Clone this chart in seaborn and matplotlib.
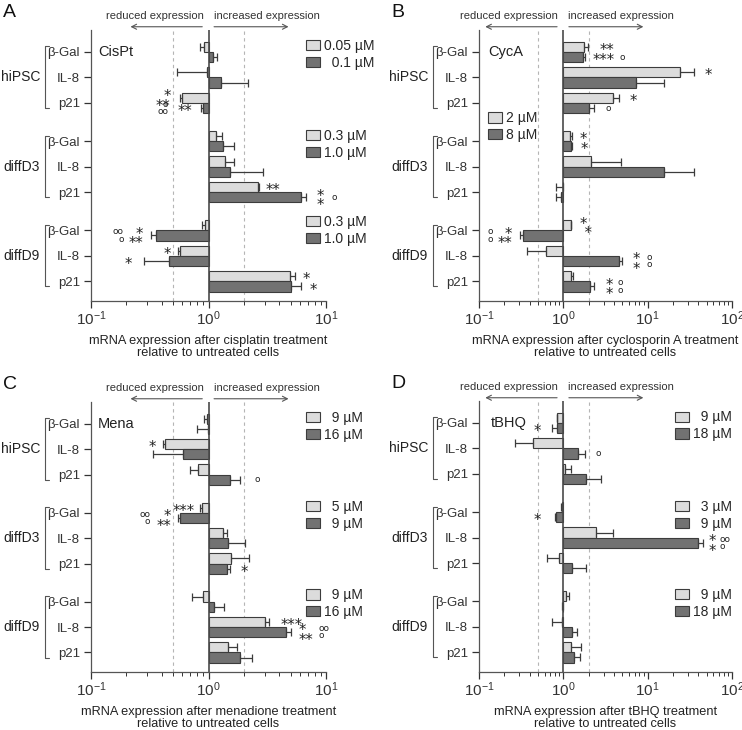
import numpy as np
import pandas as pd
import seaborn as sns
import matplotlib.pyplot as plt
import matplotlib.transforms as mtrans
from matplotlib.patches import Patch
from matplotlib.legend import Legend

sns.set_style("ticks")
plt.rcParams['font.family'] = ['Liberation Sans', 'DejaVu Sans']
plt.rcParams['mathtext.fontset'] = 'custom'
plt.rcParams['mathtext.rm'] = 'Liberation Sans'
plt.rcParams['mathtext.it'] = 'Liberation Sans'
plt.rcParams['axes.linewidth'] = 0.9
plt.rcParams['xtick.color'] = '#333333'
plt.rcParams['ytick.color'] = '#333333'

# ---------------- data ----------------
stages = ["hiPSC", "diffD3", "diffD9"]
genes = ["β-Gal", "IL-8", "p21"]

# Panel A: cisplatin
cispt_low = [0.92, 0.97, 0.59, 1.16, 1.38, 2.63, 0.94, 0.57, 4.9]
cispt_low_err = [0.08, 0.43, 0.02, 0.15, 0.28, 0.05, 0.06, 0.02, 0.5]
cispt_high = [1.10, 1.27, 0.895, 1.32, 1.51, 6.15, 0.354, 0.46, 5.06]
cispt_high_err = [0.07, 0.88, 0.025, 0.34, 1.41, 0.55, 0.027, 0.18, 1.09]
cispt_doses = [("0.05 µM", "  0.1 µM"), ("0.3 µM", "1.0 µM"), ("0.3 µM", "1.0 µM")]

# Panel B: cyclosporin A
cyca_low = [1.76, 24.3, 3.83, 1.21, 2.15, 0.99, 1.22, 0.62, 1.245]
cyca_low_err = [0.21, 10.7, 0.73, 0.04, 2.66, 0.17, 0.02, 0.25, 0.05]
cyca_high = [1.70, 7.26, 2.0, 1.22, 15.5, 0.95, 0.337, 4.6, 2.06]
cyca_high_err = [0.09, 8.3, 0.32, 0.06, 20.1, 0.14, 0.027, 0.3, 0.26]
cyca_doses = [("2 µM", "8 µM")]

# Panel C: menadione
mena_low = [0.98, 0.43, 0.81, 0.88, 1.33, 1.54, 0.905, 3.01, 1.47]
mena_low_err = [0.06, 0.02, 0.11, 0.03, 0.11, 0.66, 0.185, 0.26, 0.28]
mena_high = [0.99, 0.61, 1.52, 0.57, 1.46, 1.44, 1.11, 4.58, 1.84]
mena_high_err = [0.19, 0.27, 0.35, 0.02, 0.57, 0.08, 0.24, 0.41, 0.49]
mena_doses = [("  9 µM", "16 µM"), ("  5 µM", "  9 µM"), ("  9 µM", "16 µM")]

# Panel D: tBHQ
tbhq_low = [0.84, 0.44, 1.06, 0.97, 2.43, 0.89, 1.07, 0.97, 1.22]
tbhq_low_err = [0.01, 0.17, 0.16, 0.02, 1.40, 0.25, 0.11, 0.24, 0.39]
tbhq_high = [0.83, 1.50, 1.88, 0.82, 40.0, 1.27, 0.98, 1.27, 1.33]
tbhq_high_err = [0.10, 0.29, 0.95, 0.02, 5.0, 0.57, 0.01, 0.17, 0.24]
tbhq_doses = [("  9 µM", "18 µM"), ("  3 µM", "  9 µM"), ("  9 µM", "18 µM")]

# significance marks: (row, dose index, text, pad)
cispt_marks = [(2, 0, "*\n**", 6.5), (2, 1, "**", 6.5), (2, 1, "o\noo", 24),
               (5, 0, "**", 5), (5, 1, "*\n*", 8), (5, 1, "o", 19),
               (6, 1, "*\n**", 6), (6, 1, "oo\no", 20),
               (7, 0, "*", 5), (7, 1, "*", 8), (8, 0, "*", 6), (8, 1, "*", 6)]
cyca_marks = [(0, 0, "**", 8), (0, 1, "***", 6), (0, 1, "o", 25),
              (1, 0, "*", 8), (2, 0, "*", 8), (2, 1, "o", 8),
              (3, 0, "*", 6), (3, 1, "*", 6),
              (6, 0, "*\n *", 6), (6, 1, "*\n**", 6), (6, 1, "o\no", 20),
              (7, 1, "*\n*", 8), (7, 1, "o\no", 18),
              (8, 1, "*\n*", 8), (8, 1, "o\no", 17)]
mena_marks = [(1, 0, "*", 5), (2, 1, "o", 10),
              (3, 0, "***", 4), (3, 1, "*\n**", 5), (3, 1, "oo\no", 20),
              (5, 1, "*", 8),
              (7, 0, "***", 8), (7, 1, "*\n**", 6), (7, 1, "oo\no", 20)]
tbhq_marks = [(0, 1, "*", 8), (1, 1, "o", 8), (3, 1, "*", 10),
              (4, 1, "*\n*", 4), (4, 1, "oo\no", 12)]

LIGHT = "#dcdcdc"
DARK = "#727272"
EDGE = "#3c3c3c"

DPI = 100
fig = plt.figure(figsize=(7.42, 7.30), dpi=DPI)


def px(ax, dx):
    base = mtrans.blended_transform_factory(ax.transAxes, ax.transData)
    return base + mtrans.ScaledTranslation(dx / DPI, 0, fig.dpi_scale_trans)


def draw_panel(rect, low, low_err, high, high_err, doses, legend_pos, drug, drug_dx,
               xlabel, letter, xmax, marks):
    ax = fig.add_axes(rect)
    pos = [g * 3.5 + i for g in range(3) for i in range(3)]
    df = pd.DataFrame({
        "pos": pos * 2,
        "logv": np.log10(np.array(low + high)),
        "dose": ["low"] * 9 + ["high"] * 9,
    })
    ax.axvline(np.log10(0.5), color="#b5b5b5", lw=0.8, ls=(0, (3, 3)), zorder=0)
    ax.axvline(np.log10(2), color="#b5b5b5", lw=0.8, ls=(0, (3, 3)), zorder=0)
    sns.barplot(data=df, x="logv", y="pos", hue="dose", hue_order=["low", "high"],
                orient="h", native_scale=True, palette={"low": LIGHT, "high": DARK},
                width=0.8, errorbar=None, edgecolor=EDGE, linewidth=0.8,
                legend=False, ax=ax, zorder=2)
    for vals, errs, off in [(low, low_err, -0.2), (high, high_err, 0.2)]:
        v = np.array(vals)
        e = np.array(errs)
        neg = v < 1
        lo = np.where(neg, np.log10(v) - np.log10(np.maximum(v - e, 1e-3)), 0)
        hi = np.where(neg, 0, np.log10(v + e) - np.log10(v))
        ax.errorbar(np.log10(v), np.array(pos) + off, xerr=[lo, hi], fmt="none",
                    ecolor=EDGE, elinewidth=0.9, capsize=3, capthick=0.9, zorder=3)
    ax.axvline(0, color="#4a4a4a", lw=1.2, zorder=4)

    # significance marks
    for row, d, txt, pad in marks:
        v = (low, high)[d][row]
        e = (low_err, high_err)[d][row]
        tip = v - e if v < 1 else v + e
        side = -1 if v < 1 else 1
        y = pos[row] + (-0.2 if d == 0 else 0.2)
        isc = "o" in txt
        ax.annotate(txt, xy=(np.log10(tip), y),
                    xytext=(side * pad, 0 if isc else -2.6),
                    textcoords="offset points", ha="right" if side < 0 else "left",
                    va="center", fontsize=6.5 if isc else 10.5,
                    linespacing=0.55 if not isc else 0.75,
                    family=["DejaVu Sans"], color="#222222", zorder=5)

    ax.set_xlim(-1, xmax)
    ax.set_ylim(9.77, -0.86)
    ax.set_xticks(range(-1, xmax + 1),
                  [r"$\mathregular{10^{%d}}$" % k for k in range(-1, xmax + 1)],
                  fontsize=11)
    ax.set_xticks([np.log10(m) + d for d in range(-1, xmax) for m in range(2, 10)],
                  minor=True)
    ax.tick_params(axis="x", which="major", length=5, width=0.9, pad=1)
    ax.tick_params(axis="x", which="minor", length=3, width=0.7)
    ax.set_yticks(pos, genes * 3, fontsize=9.5)
    ax.tick_params(axis="y", length=5, width=0.9, pad=3)
    ax.set_ylabel("")
    ax.set_xlabel(xlabel, fontsize=9.2, linespacing=1.05, labelpad=5, color="#222222")
    sns.despine(ax=ax)
    for sp in ["left", "bottom"]:
        ax.spines[sp].set_color("#555555")

    # group brackets and labels
    wpx = rect[2] * 742
    for g, st in enumerate(stages):
        top, bot = pos[g * 3] - 0.22, pos[g * 3 + 2] + 0.2
        s = 4 / wpx
        ax.plot([s, 0, 0, s], [top, top, bot, bot], transform=px(ax, -46),
                color="#555555", lw=0.8, clip_on=False)
        ax.text(0, pos[g * 3 + 1], st, transform=px(ax, -51), ha="right", va="center",
                fontsize=10, color="#222222")

    # drug name
    ax.text(0, pos[0], drug, transform=px(ax, drug_dx), ha="left", va="center",
            fontsize=10.5, color="#222222")

    # legends (one per cell stage)
    for (lab1, lab2), (lx, ly) in zip(doses, legend_pos):
        handles = [Patch(facecolor=LIGHT, edgecolor=EDGE, lw=0.8),
                   Patch(facecolor=DARK, edgecolor=EDGE, lw=0.8)]
        leg = Legend(ax, handles, [lab1, lab2], loc="upper left",
                     bbox_to_anchor=(lx, ly), frameon=False, fontsize=10,
                     handlelength=1.0, handleheight=0.75, handletextpad=0.3,
                     labelspacing=0.2, borderpad=0, borderaxespad=0)
        ax.add_artist(leg)

    # reduced / increased expression
    ybl = mtrans.blended_transform_factory(ax.transData, ax.transAxes)
    ax.annotate("", xy=(0, 1.012), xycoords=ybl, xytext=(-78 * 0.72, 0),
                textcoords="offset points",
                arrowprops=dict(arrowstyle="<-,head_length=0.35,head_width=0.18",
                                color="#555555", lw=0.8, shrinkA=0, shrinkB=4.5))
    ax.annotate("", xy=(0, 1.012), xycoords=ybl, xytext=(80 * 0.72, 0),
                textcoords="offset points",
                arrowprops=dict(arrowstyle="<-,head_length=0.35,head_width=0.18",
                                color="#555555", lw=0.8, shrinkA=0, shrinkB=4))
    ax.annotate("reduced expression", xy=(0, 1.052), xycoords=ybl, xytext=(-5 * 0.72, 0),
                textcoords="offset points", ha="right", va="center", fontsize=8,
                color="#333333")
    ax.annotate("increased expression", xy=(0, 1.052), xycoords=ybl, xytext=(5 * 0.72, 0),
                textcoords="offset points", ha="left", va="center", fontsize=8,
                color="#333333")

    fig.text(rect[0] - 88 / 742, rect[1] + rect[3] + 26 / 730, letter, fontsize=14,
             ha="left", va="top", color="#111111")
    return ax


draw_panel([91 / 742, 1 - 301 / 730, 235 / 742, 271 / 730],
           cispt_low, cispt_low_err, cispt_high, cispt_high_err, cispt_doses,
           [(0.915, 0.967), (0.915, 0.635), (0.915, 0.317)], "CisPt", 7,
           "mRNA expression after cisplatin treatment\nrelative to untreated cells", "A", 1,
           cispt_marks)
draw_panel([479 / 742, 1 - 301 / 730, 253 / 742, 271 / 730],
           cyca_low, cyca_low_err, cyca_high, cyca_high_err, cyca_doses,
           [(0.036, 0.70)], "CycA", 9,
           "mRNA expression after cyclosporin A treatment\nrelative to untreated cells", "B", 2,
           cyca_marks)
draw_panel([91 / 742, 1 - 672 / 730, 235 / 742, 270 / 730],
           mena_low, mena_low_err, mena_high, mena_high_err, mena_doses,
           [(0.915, 0.967), (0.915, 0.637), (0.915, 0.31)], "Mena", 7,
           "mRNA expression after menadione treatment\nrelative to untreated cells", "C", 1,
           mena_marks)
draw_panel([479 / 742, 1 - 672 / 730, 253 / 742, 271 / 730],
           tbhq_low, tbhq_low_err, tbhq_high, tbhq_high_err, tbhq_doses,
           [(0.775, 0.965), (0.775, 0.635), (0.775, 0.31)], "tBHQ", 12,
           "mRNA expression after tBHQ treatment\nrelative to untreated cells", "D", 2,
           tbhq_marks)

fig.savefig("out.png", dpi=DPI)
